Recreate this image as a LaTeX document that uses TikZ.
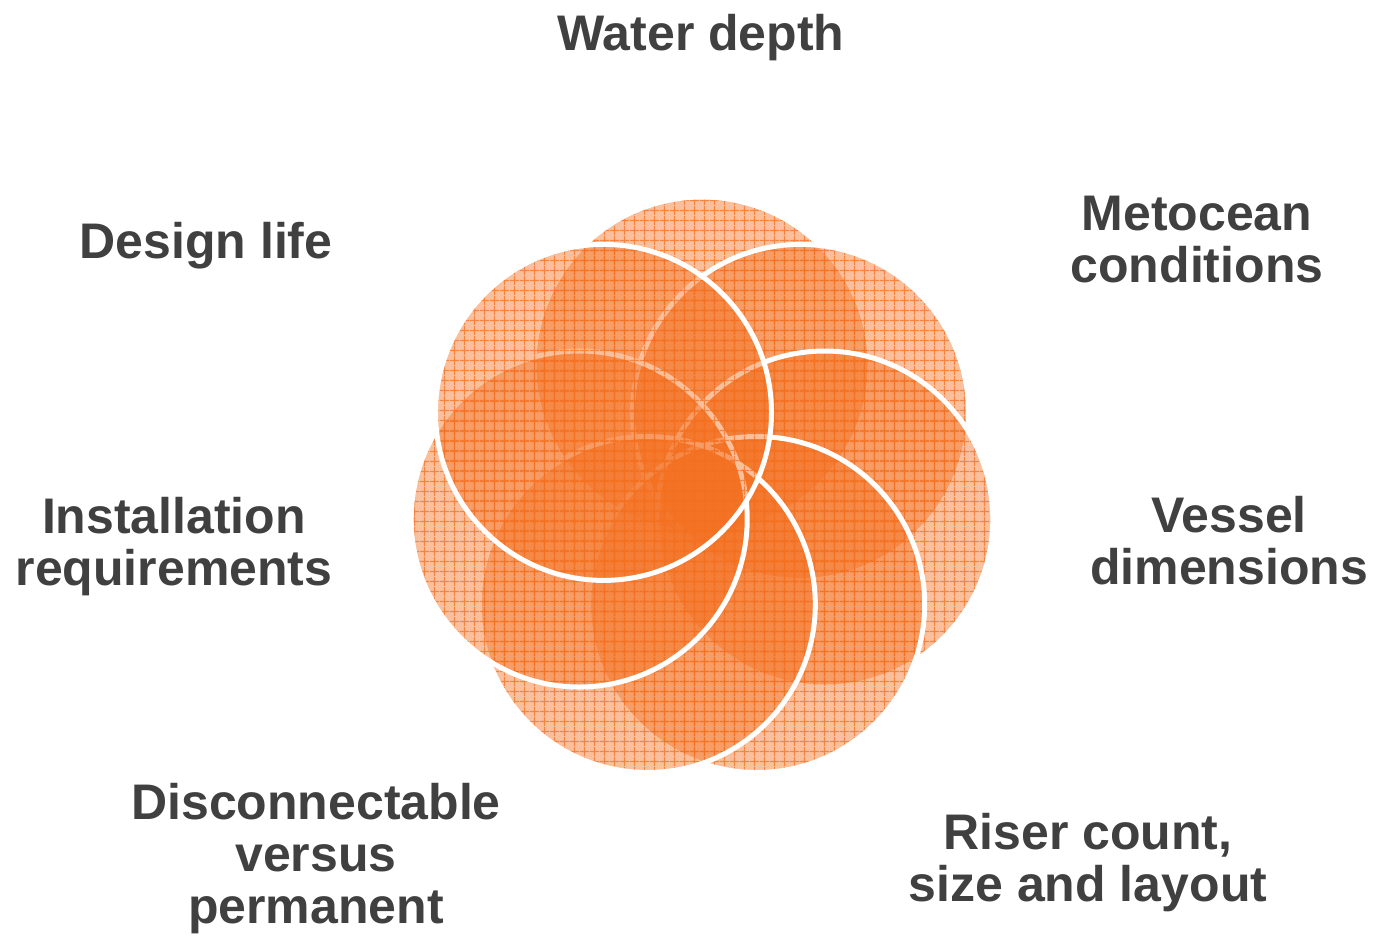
\documentclass[tikz,border=0pt]{standalone}
\usepackage{fontspec}
\setmainfont{Liberation Sans}
\usetikzlibrary{patterns.meta}
\definecolor{orng}{HTML}{F37021}
\definecolor{txt}{HTML}{404040}
\pgfdeclarepattern{name=orggrid, type=uncolored,
  bottom left={\pgfpoint{0pt}{0pt}}, top right={\pgfpoint{10pt}{10pt}},
  tile size={\pgfpoint{10pt}{10pt}},
  code={\pgfsetlinewidth{1.3pt}
    \pgfpathmoveto{\pgfpoint{0pt}{5pt}}\pgfpathlineto{\pgfpoint{10pt}{5pt}}
    \pgfpathmoveto{\pgfpoint{5pt}{0pt}}\pgfpathlineto{\pgfpoint{5pt}{10pt}}
    \pgfusepath{stroke}}}
\tikzset{
  petal/.style={circle, minimum size=336pt, inner sep=0pt, outer sep=0pt},
  lbl/.style={font=\fontsize{50}{52}\selectfont\bfseries, text=txt, align=center, inner sep=0pt}
}
\newcommand{\petaldraw}[1]{%
  \fill[orng, fill opacity=0.44] (#1.center) circle (168pt);
  \fill[pattern=orggrid, pattern color=orng, fill opacity=0.75] (#1.center) circle (168pt);
  \draw[white, line width=5pt] (#1.center) circle (168pt);
}
\begin{document}
\begin{tikzpicture}[x=1pt,y=-1pt]
\useasboundingbox (0,0) rectangle (1375,935);
% circle positions (heptagon around 702,491)
\node[petal] (A) at (702,365) {};
\node[petal] (B) at (800.5,412.4) {};
\node[petal] (C) at (824.8,519) {};
\node[petal] (D) at (756.7,604.5) {};
\node[petal] (E) at (647.3,604.5) {};
\node[petal] (F) at (579.2,519) {};
\node[petal] (G) at (603.5,412.4) {};
\petaldraw{A}
\petaldraw{B}
\petaldraw{C}
\petaldraw{D}
\petaldraw{E}
\petaldraw{F}
\petaldraw{G}
% labels (base anchor = baseline of last line)
\node[lbl, anchor=base] (tA) at (701,50) {Water depth};
\node[lbl, anchor=base] (tB) at (1197,282) {Metocean\\conditions};
\node[lbl, anchor=base] (tC) at (1229,584) {Vessel\\dimensions};
\node[lbl, anchor=base] (tD) at (1088,901) {Riser count,\\size and layout};
\node[lbl, anchor=base] (tE) at (316,923) {Disconnectable\\versus\\permanent};
\node[lbl, anchor=base] (tF) at (174,585) {Installation\\requirements};
\node[lbl, anchor=base] (tG) at (206,258) {Design life};
\end{tikzpicture}
\end{document}
